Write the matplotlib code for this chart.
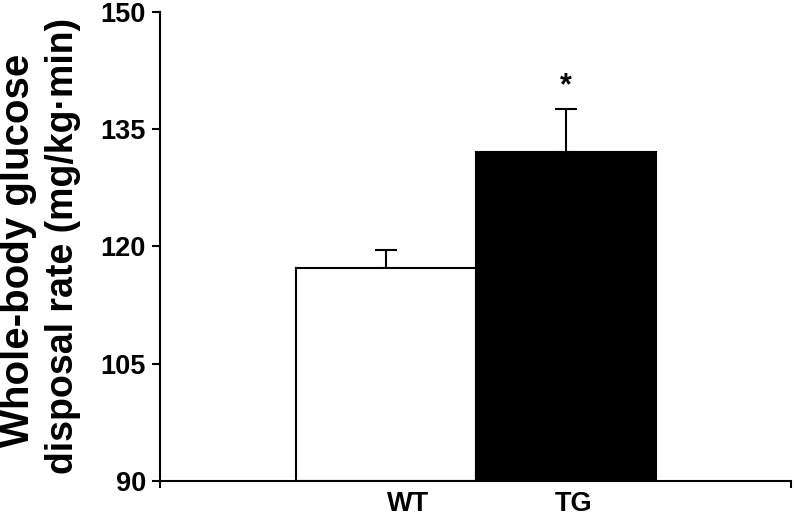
import matplotlib
matplotlib.use("Agg")
import matplotlib.pyplot as plt

groups = ["WT", "TG"]
means = [117.2, 132.1]
errors = [2.35, 5.45]
colors = ["white", "black"]
label_pos = [0.12, 1.04]
ylabel_lines = ["Whole-body glucose", "disposal rate (mg/kg\u00b7min)"]

plt.rcParams['font.family'] = ['Liberation Sans', 'DejaVu Sans']
W, H = 796, 516
fig = plt.figure(figsize=(W / 100, H / 100), dpi=100)
ax = fig.add_axes([0.201, 0.0678, 0.7927, 0.909])

x = list(range(len(groups)))
ax.bar(x, [m - 90 for m in means], bottom=90, width=1.0, color=colors,
       edgecolor="black", linewidth=1.5, zorder=2)
ax.errorbar(x, means, yerr=[[0, 0], errors], fmt="none", ecolor="black",
            elinewidth=1.5, capsize=8, capthick=1.5, zorder=1)
ax.text(1, means[1] + errors[1] + 1.0, "*", ha="center", va="bottom",
        fontsize=22, fontweight="bold")

ax.set_ylim(90, 150)
ax.set_yticks([90, 105, 120, 135, 150])
ax.set_xlim(-1.256, 2.25)
ax.set_xticks(label_pos)
ax.set_xticklabels(groups, fontsize=19.5, fontweight="bold")
ax.tick_params(axis="x", length=0, pad=7)
ax.set_xticks([-1.256, 2.25], minor=True)
ax.tick_params(axis="x", which="minor", length=5, width=1.5, direction="out")
ax.tick_params(axis="y", labelsize=19.5, length=6, width=1.5, direction="out", pad=4)
for lab in ax.get_yticklabels():
    lab.set_fontweight("bold")
ax.spines["top"].set_visible(False)
ax.spines["right"].set_visible(False)
ax.spines["left"].set_linewidth(1.5)
ax.spines["bottom"].set_linewidth(1.5)

# two-line y-axis title
fig.text(29 / W, 1 - 250 / H, ylabel_lines[0], rotation=90, rotation_mode="anchor",
         ha="center", va="baseline", fontsize=29, fontweight="bold")
fig.text(73 / W, 1 - 246 / H, ylabel_lines[1], rotation=90, rotation_mode="anchor",
         ha="center", va="baseline", fontsize=27, fontweight="bold")

fig.savefig("out.png", dpi=100)
